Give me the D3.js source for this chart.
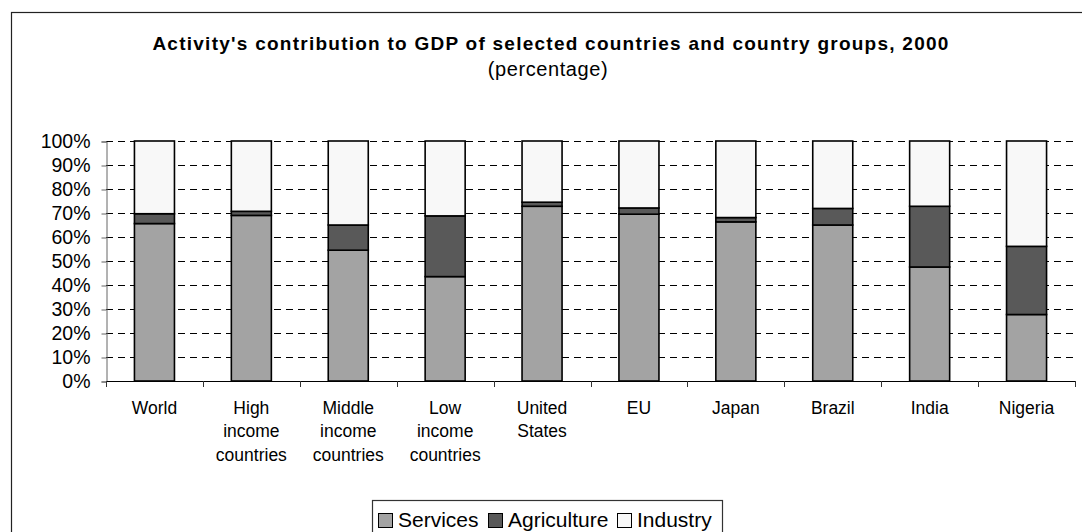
<!DOCTYPE html>
<html><head><meta charset="utf-8">
<script src="https://cdn.jsdelivr.net/npm/d3@7"></script>
<style>
html,body{margin:0;padding:0;background:#fff;}
svg{display:block;font-family:"Liberation Sans",Arial,sans-serif;}
</style></head>
<body>
<script>
const categories = ["World","High income countries","Middle income countries","Low income countries","United States","EU","Japan","Brazil","India","Nigeria"];
const categoryLines = [["World"],["High","income","countries"],["Middle","income","countries"],["Low","income","countries"],["United","States"],["EU"],["Japan"],["Brazil"],["India"],["Nigeria"]];
const seriesNames = ["Services","Agriculture","Industry"];
const services    = [65.6, 69.0, 54.5, 43.5, 72.8, 69.5, 66.3, 65.0, 47.5, 27.7];
const agriculture = [4.1,  1.7,  10.5, 25.3, 1.7,  2.6,  1.8,  6.9,  25.3, 28.4];
const industry    = services.map((s,i)=>+(100 - s - agriculture[i]).toFixed(1));
const yTicks = [0,10,20,30,40,50,60,70,80,90,100];
const colors = ["#a3a3a3","#595959","#f8f8f8"];

const W = 1082, H = 532;
const svg = d3.select("body").append("svg").attr("width",W).attr("height",H);

// outer frame
svg.append("rect").attr("x",11.5).attr("y",12.5).attr("width",W).attr("height",H)
  .attr("fill","none").attr("stroke","#222").attr("stroke-width",1.2);

// titles
svg.append("text").attr("x",551).attr("y",50).attr("text-anchor","middle")
  .attr("font-size",19).attr("font-weight","bold").attr("fill","#000")
  .attr("letter-spacing",1.25)
  .text("Activity's contribution to GDP of selected countries and country groups, 2000");
svg.append("text").attr("x",548).attr("y",76).attr("text-anchor","middle")
  .attr("font-size",20).attr("fill","#000").attr("letter-spacing",0.6).text("(percentage)");

const x = d3.scaleBand().domain(categories).range([106,1075]).paddingInner(0.587).paddingOuter(0.2935);
const y = d3.scaleLinear().domain([0,100]).range([381,141]);

// gridlines
svg.append("g").selectAll("line").data(yTicks.filter(t=>t>0)).join("line")
  .attr("x1",106).attr("x2",1075).attr("y1",d=>y(d)+0.5).attr("y2",d=>y(d)+0.5)
  .attr("stroke","#000").attr("stroke-width",1).attr("stroke-dasharray","7,5");

// y axis
const yAxis = d3.axisLeft(y).tickValues(yTicks).tickSize(5).tickFormat(d=>d+"%");
const gy = svg.append("g").attr("transform","translate(106.5,0.5)").call(yAxis);
gy.select(".domain").attr("stroke","#666");
gy.selectAll(".tick line").attr("stroke","#666");
gy.selectAll(".tick text").attr("font-size",19.5).attr("fill","#000").attr("x",-16)
  .attr("font-family","Liberation Sans, Arial, sans-serif");

// stacked bars
const rows = categories.map((c,i)=>({cat:c, Services:services[i], Agriculture:agriculture[i], Industry:industry[i]}));
const stack = d3.stack().keys(seriesNames)(rows);
svg.append("g").selectAll("g").data(stack).join("g").attr("fill",(d,i)=>colors[i])
  .selectAll("rect").data(d=>d).join("rect")
  .attr("x",d=>x(d.data.cat)).attr("width",x.bandwidth())
  .attr("y",d=>y(d[1])).attr("height",d=>y(d[0])-y(d[1]))
  .attr("stroke","#000").attr("stroke-width",1.6);

// x axis
const step = x.step();
const bounds = d3.range(categories.length+1).map(i=>106 + i*step);
svg.append("line").attr("x1",106).attr("x2",1075).attr("y1",381.5).attr("y2",381.5)
  .attr("stroke","#000").attr("stroke-width",1.2);
svg.append("g").selectAll("line").data(bounds).join("line")
  .attr("x1",d=>Math.round(d)+0.5).attr("x2",d=>Math.round(d)+0.5).attr("y1",381).attr("y2",387)
  .attr("stroke","#333").attr("stroke-width",1);

const lab = svg.append("g").selectAll("text").data(categories).join("text")
  .attr("text-anchor","middle").attr("font-size",17.5).attr("fill","#000")
  .attr("transform",d=>`translate(${x(d)+x.bandwidth()/2},414)`);
lab.selectAll("tspan").data((d,i)=>categoryLines[i]).join("tspan")
  .attr("x",0).attr("dy",(d,i)=>i===0?0:23.3).text(d=>d);

// legend
const lg = svg.append("g");
lg.append("rect").attr("x",372.5).attr("y",500.5).attr("width",350).attr("height",60)
  .attr("fill","#fff").attr("stroke","#333").attr("stroke-width",1.2);
const legX = [378, 488, 617];
const items = lg.selectAll("g").data(seriesNames).join("g")
  .attr("transform",(d,i)=>`translate(${legX[i]},0)`);
items.append("rect").attr("x",0.5).attr("y",513.5).attr("width",14).attr("height",14)
  .attr("fill",(d,i)=>colors[i]).attr("stroke","#000").attr("stroke-width",1);
items.append("text").attr("x",20).attr("y",527).attr("font-size",21).attr("fill","#000").text(d=>d);
</script>
</body></html>
